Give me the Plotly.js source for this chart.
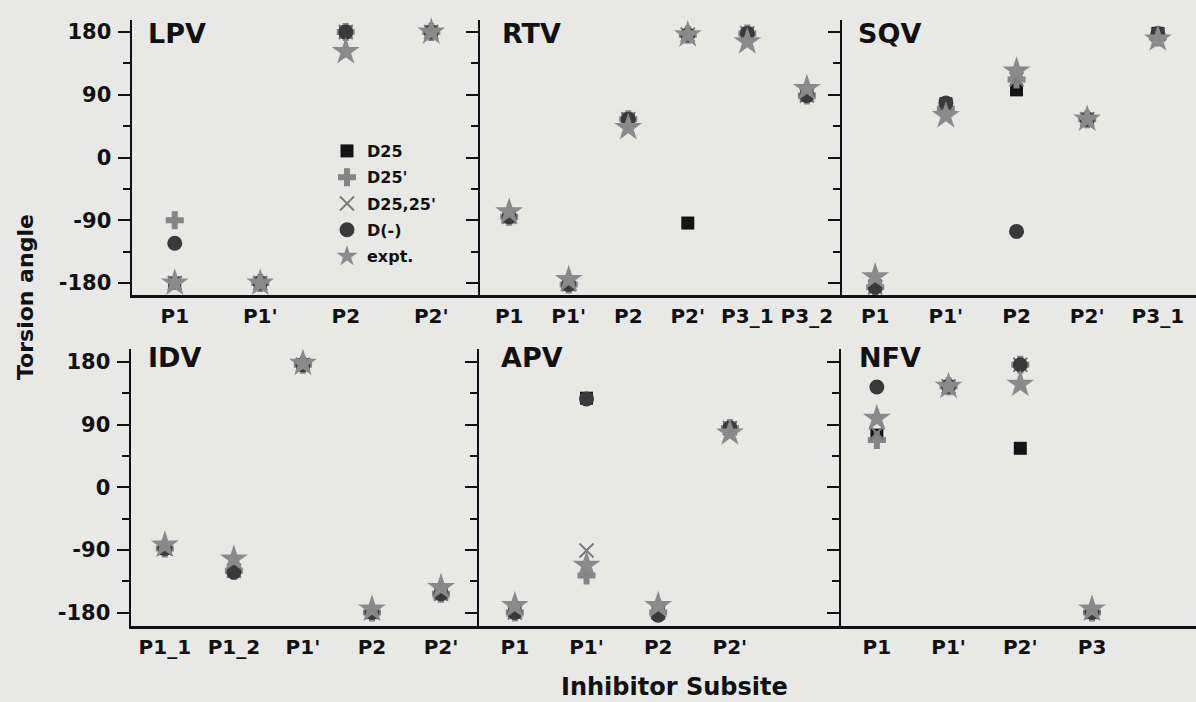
<!DOCTYPE html>
<html>
<head>
<meta charset="utf-8">
<script src="https://cdn.plot.ly/plotly-3.0.1.min.js"></script>
<style>
html,body{margin:0;padding:0;background:#e8e8e6;}
#chart{width:1196px;height:702px;}
</style>
</head>
<body>
<div id="chart"></div>
<script>
// ---- Data ----
const seriesNames = ["D25", "D25'", "D25,25'", "D(-)", "expt."];
const panelNames = ["LPV", "RTV", "SQV", "IDV", "APV", "NFV"];

const lpvCats = ["P1", "P1'", "P2", "P2'"];
const lpvD25 = [-180, -180, 180, 180];
const lpvD25p = [-90, -180, 180, 180];
const lpvD2525 = [-180, -180, 180, 180];
const lpvDm = [-123, -180, 180, 180];
const lpvExpt = [-180, -180, 152, 180];

const rtvCats = ["P1", "P1'", "P2", "P2'", "P3_1", "P3_2"];
const rtvD25 = [-85, -182, 55, -94, 178, 89];
const rtvD25p = [-85, -182, 55, 176, 178, 89];
const rtvD2525 = [-85, -182, 55, 176, 178, 89];
const rtvDm = [-85, -182, 55, 176, 178, 89];
const rtvExpt = [-78, -175, 43, 176, 166, 99];

const sqvCats = ["P1", "P1'", "P2", "P2'", "P3_1"];
const sqvD25 = [-184, 77, 97, 55, 178];
const sqvD25p = [-186, 70, 112, 55, 172];
const sqvD2525 = [-186, 74, 112, 55, 176];
const sqvDm = [-186, 78, -106, 55, 178];
const sqvExpt = [-171, 60, 124, 55, 170];

const idvCats = ["P1_1", "P1_2", "P1'", "P2", "P2'"];
const idvD25 = [-88, -120, 176, -180, -153];
const idvD25p = [-88, -120, 176, -180, -153];
const idvD2525 = [-88, -120, 176, -180, -153];
const idvDm = [-88, -122, 176, -180, -153];
const idvExpt = [-83, -103, 178, -175, -144];

const apvCats = ["P1", "P1'", "P2", "P2'"];
const apvD25 = [-180, 128, -180, 85];
const apvD25p = [-180, -127, -180, 85];
const apvD2525 = [-180, -91, -180, 85];
const apvDm = [-180, 127, -184, 85];
const apvExpt = [-170, -112, -170, 78];

const nfvCats = ["P1", "P1'", "P2'", "P3"];
const nfvD25 = [75, 145, 56, -180];
const nfvD25p = [68, 145, 176, -180];
const nfvD2525 = [78, 145, 176, -180];
const nfvDm = [144, 145, 176, -180];
const nfvExpt = [99, 145, 148, -175];

const yTickVals = [-180, -90, 0, 90, 180];
const yTickText = ["-180", "-90", "0", "90", "180"];

// ---- Build ----
const panels = [
  {cats: lpvCats, s: [lpvD25, lpvD25p, lpvD2525, lpvDm, lpvExpt]},
  {cats: rtvCats, s: [rtvD25, rtvD25p, rtvD2525, rtvDm, rtvExpt]},
  {cats: sqvCats, s: [sqvD25, sqvD25p, sqvD2525, sqvDm, sqvExpt]},
  {cats: idvCats, s: [idvD25, idvD25p, idvD2525, idvDm, idvExpt]},
  {cats: apvCats, s: [apvD25, apvD25p, apvD2525, apvDm, apvExpt]},
  {cats: nfvCats, s: [nfvD25, nfvD25p, nfvD2525, nfvDm, nfvExpt]}
];

const markerStyles = [
  {symbol: "square", size: 13, color: "#141414"},
  {symbol: "cross", size: 15, color: "#858585"},
  {symbol: "x-thin-open", size: 14, color: "#7a7a7a", line: {width: 2, color: "#7a7a7a"}},
  {symbol: "circle", size: 15, color: "#3a3a3a"},
  {symbol: "star", size: 21, color: "#8a8a8a"}
];

const W = 1196, H = 702;
const px = v => v / W;
const py = v => (H - v) / H;

const xDomPx = [[132, 480], [480, 842], [842, 1196], [131, 479], [479, 841], [841, 1196]];
const yDomPx = [[20, 295], [20, 295], [20, 295], [349, 626], [349, 626], [349, 626]];
const xRanges = [[-0.5, 3.57], [-0.49, 5.59], [-0.47, 4.54], [-0.49, 4.55], [-0.5, 4.55], [-0.5, 4.45]];
const yRanges = [[-197.2, 197.2], [-197.2, 197.2], [-197.2, 197.2], [-199.4, 198.7], [-199.4, 198.7], [-199.4, 198.7]];

const FONT = "DejaVu Sans, Arial, sans-serif";
const traces = [];
const layout = {
  width: W, height: H,
  margin: {l: 0, r: 0, t: 0, b: 0},
  paper_bgcolor: "#e8e8e6",
  plot_bgcolor: "rgba(0,0,0,0)",
  showlegend: true,
  legend: {
    x: px(327), y: py(134), xanchor: "left", yanchor: "top",
    bgcolor: "rgba(0,0,0,0)",
    font: {family: FONT, size: 16, color: "#111", weight: "bold"},
    itemsizing: "trace",
    traceorder: "grouped",
    tracegroupgap: 2.5
  },
  annotations: [],
  font: {family: FONT, color: "#111"}
};

panels.forEach((p, i) => {
  const k = i === 0 ? "" : String(i + 1);
  p.s.forEach((vals, j) => {
    const ms = markerStyles[j];
    const marker = {symbol: ms.symbol, size: ms.size, color: ms.color};
    if (ms.line) marker.line = ms.line; else marker.line = {width: 0};
    traces.push({
      type: "scatter", mode: "markers",
      x: p.cats, y: vals,
      xaxis: "x" + k, yaxis: "y" + k,
      name: seriesNames[j], legendgroup: seriesNames[j],
      showlegend: i === 0,
      marker: marker,
      cliponaxis: false,
      hoverinfo: "x+y"
    });
  });
  const showY = (i === 0 || i === 3);
  layout["xaxis" + k] = {
    domain: [px(xDomPx[i][0]), px(xDomPx[i][1])],
    anchor: "y" + k,
    type: "category",
    categoryorder: "array", categoryarray: p.cats,
    range: xRanges[i],
    showline: true, linecolor: "#111", linewidth: 3,
    ticks: "", showgrid: false, zeroline: false,
    tickfont: {family: FONT, size: 20, color: "#111", weight: "bold"},
    ticklabelstandoff: 1,
    fixedrange: true
  };
  layout["yaxis" + k] = {
    domain: [py(yDomPx[i][1]), py(yDomPx[i][0])],
    anchor: "x" + k,
    range: yRanges[i],
    tickmode: "array", tickvals: yTickVals, ticktext: yTickText,
    showticklabels: showY,
    showline: true, linecolor: "#111", linewidth: 2.5,
    ticks: "outside", ticklen: 12, tickwidth: 2, tickcolor: "#111",
    minor: {tickmode: "array", tickvals: [-135, -45, 45, 135], ticks: "outside", ticklen: 7, tickwidth: 2, tickcolor: "#111", showgrid: false},
    showgrid: false, zeroline: false,
    tickfont: {family: FONT, size: 21, color: "#111", weight: "bold"},
    ticklabelstandoff: 2,
    fixedrange: true
  };
  const labX = [146, 500, 856, 146, 499, 857][i];
  const labY = [33, 33, 33, 357, 357, 357][i];
  layout.annotations.push({
    xref: "paper", yref: "paper", x: px(labX), y: py(labY),
    xanchor: "left", yanchor: "middle", showarrow: false,
    text: panelNames[i],
    font: {family: FONT, size: 27, color: "#111", weight: "bold"}
  });
});

layout.annotations.push({
  xref: "paper", yref: "paper", x: px(25), y: py(297),
  xanchor: "center", yanchor: "middle", showarrow: false,
  text: "Torsion angle", textangle: -90,
  font: {family: FONT, size: 22, color: "#111", weight: "bold"}
});
layout.annotations.push({
  xref: "paper", yref: "paper", x: px(674), y: py(687),
  xanchor: "center", yanchor: "middle", showarrow: false,
  text: "Inhibitor Subsite",
  font: {family: FONT, size: 24, color: "#111", weight: "bold"}
});

Plotly.newPlot("chart", traces, layout, {displayModeBar: false, staticPlot: true});
</script>
</body>
</html>
